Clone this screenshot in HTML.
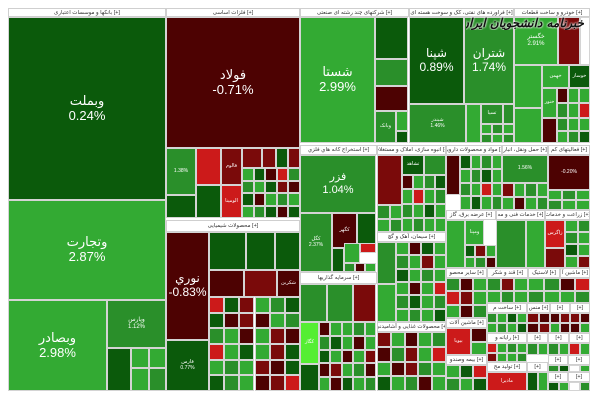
<!DOCTYPE html>
<html><head><meta charset="utf-8">
<style>
html,body{margin:0;padding:0;background:#fff;width:600px;height:400px;overflow:hidden}
#tm{position:relative;width:600px;height:400px;font-family:"Liberation Sans","DejaVu Sans",sans-serif}
.c{position:absolute;box-sizing:border-box;border:1px solid #d4d4d4;color:#fff;display:flex;flex-direction:column;align-items:center;justify-content:center;text-align:center;overflow:hidden;line-height:1.15}
.h{position:absolute;box-sizing:border-box;border:1px solid #cfcfcf;background:#fff;color:#333;font-size:5.5px;display:flex;align-items:center;justify-content:center;overflow:hidden;white-space:nowrap}
.wm{position:absolute;left:466px;top:16px;width:118px;text-align:center;font:bold italic 12px "DejaVu Sans",sans-serif;color:#111;text-shadow:0 0 2px #fff,0 0 2px #fff;white-space:nowrap;direction:rtl;overflow:hidden}
</style></head><body>
<div id="tm"></div>
<script>
var colors={D:'#0b5a0b',G:'#2a8f2a',L:'#33aa33',B:'#4cc24c',R:'#4d0202',M:'#7a0a0a',r:'#cc1a1a',W:'#ffffff',X:'#55ee33'};
var headers=[
[8,8,158,9,'بانکها و موسسات اعتباری [+]'],[166,8,134,9,'فلزات اساسی [+]'],[300,8,109,9,'شرکتهای چند رشته ای صنعتی [+]'],
[409,8,105,9,'فراورده های نفتی، کک و سوخت هسته ای [+]'],[514,8,76,9,'خودرو و ساخت قطعات [+]'],[166,220,134,12,'محصولات شیمیایی [+]'],
[300,145,77,10,'استخراج كانه هاي فلزي [+]'],[377,145,69,10,'انبوه سازی، املاک و مستغلات [+]'],[446,145,56,10,'مواد و محصولات دارویی [+]'],
[502,145,46,10,'حمل ونقل، انبار [+]'],[548,145,42,10,'فعالیتهای کم [+]'],[300,272,77,12,'سرمایه گذاریها [+]'],
[377,232,69,10,'سیمان، آهک و گچ [+]'],[377,322,69,10,'محصولات غذایی و آشامیدنی [+]'],[446,210,50,10,'عرضه برق، گاز [+]'],
[496,210,49,10,'خدمات فنی و مه [+]'],[545,210,45,10,'زراعت و خدمات [+]'],[446,268,41,10,'سایر محصو [+]'],[487,268,41,10,'قند و شکر [+]'],
[528,268,32,10,'لاستیک [+]'],[560,268,30,10,'ماشین آ [+]'],[446,318,41,10,'ماشین آلات [+]'],[446,355,41,10,'بیمه وصندو [+]'],
[487,303,40,10,'ساخت م [+]'],[527,303,23,10,'منس [+]'],[550,303,20,10,'[+]'],[570,303,20,10,'[+]'],
[487,333,40,10,'رایانه و [+]'],[527,333,21,10,'[+]'],[548,333,21,10,'[+]'],[569,333,21,10,'[+]'],
[487,362,40,10,'تولید مح [+]'],[527,362,21,10,'[+]'],[548,355,20,10,'[+]'],[568,355,22,10,'[+]'],[548,372,20,10,'[+]'],[568,372,22,10,'[+]']
];
var cells=[
[8,17,158,183,'D','وبملت','0.24%',13],[8,200,158,100,'L','وتجارت','2.87%',13],[8,300,99,91,'L','وبصادر','2.98%',13],
[107,300,59,48,'G','وپارس','1.12%',6],[107,348,24,43,'D','',''],[131,348,18,20,'L','',''],[149,348,17,20,'L','',''],[131,368,18,23,'L','',''],[149,368,17,23,'G','',''],
[166,17,134,131,'R','فولاد','-0.71%',13],[166,148,30,47,'G','','1.38%',5],[166,195,30,23,'D','',''],[196,148,25,37,'r','',''],[221,148,21,37,'M','فالوم','',5],
[242,148,20,20,'M','',''],[262,148,14,20,'M','',''],[276,148,12,20,'D','',''],[288,148,12,20,'M','',''],[196,185,25,33,'D','',''],[221,185,21,33,'r','الومينا','',5],
[166,232,43,108,'R','نوري','-0.83%',12],[166,340,43,51,'D','فارس','0.77%',5],[209,232,37,38,'D','',''],[246,232,29,38,'D','',''],[275,232,25,38,'D','',''],
[209,270,35,27,'R','',''],[244,270,33,27,'M','',''],[277,270,23,27,'R','شکربن','',5],
[300,17,75,126,'L','شستا','2.99%',13],[375,17,33,42,'D','',''],[375,59,33,27,'G','',''],[375,86,33,25,'R','',''],[375,111,21,32,'G','وبانک','',5],[396,111,12,20,'L','',''],[396,131,12,12,'D','',''],
[409,17,55,87,'D','شپنا','0.89%',12],[464,17,50,87,'G','شتران','1.74%',12],[409,104,57,39,'G','شبندر','1.46%',5],[466,104,15,39,'L','',''],[481,104,22,20,'G','تسیا','',5],[503,104,11,20,'G','',''],
[514,17,44,48,'L','خگستر','2.91%',6],[558,17,22,48,'M','','',5],[580,17,10,48,'W','',''],[514,65,28,43,'L','',''],[542,65,27,23,'L','خهمن','',5],[569,65,21,23,'D','خوساز','',5],
[514,108,28,35,'L','',''],[542,88,15,30,'L','خنور','',5],[557,88,11,15,'R','',''],[568,88,11,15,'L','',''],[579,88,11,15,'L','',''],[542,118,15,25,'R','',''],
[300,155,76,58,'G','فزر','1.04%',11],[300,213,32,59,'G','کگل','2.37%',5],[332,213,25,35,'R','کگهر','',5],[357,213,19,35,'D','',''],[332,248,12,24,'D','',''],[344,243,16,20,'L','',''],[360,243,16,10,'r','',''],
[300,284,27,38,'G','',''],[327,284,26,38,'G','',''],[353,284,23,38,'M','',''],[300,322,19,42,'X','کگاز','',5],[300,364,19,27,'D','',''],
[377,155,25,50,'M','',''],[402,155,22,20,'D','تشاهد','',5],[424,155,22,20,'G','',''],[377,242,19,42,'G','',''],[377,284,19,38,'L','',''],
[446,155,14,40,'R','',''],[502,155,46,28,'G','','1.56%',5],[548,155,42,35,'R','','-0.20%',5],
[446,220,19,48,'L','',''],[465,220,19,25,'L','ومپنا','',5],[496,220,30,48,'G','',''],[526,220,19,48,'L','',''],[545,220,20,28,'r','زاگرس','',5],[545,248,20,20,'M','',''],
[446,328,25,27,'r','بیوبا','',5],[487,372,40,19,'r','مادیرا','',5]
];
var mosaics=[
[242,168,58,50,['LDRrG','GLDMR','DRLGL','LGDRD']],
[209,297,91,94,['rDMLGD','DRMRLG','GLRLMR','rLDLMD','LGLMRD','DGLRMr']],
[481,124,33,19,['LGL','GLG']],
[557,103,33,15,['GLr']],[557,118,33,25,['GLL','LGD']],
[344,263,32,9,['GRL']],[319,322,57,69,['RLLGL','GDLRL','DLRLM','RMLGR','LRDLG']],
[402,175,44,57,['RLGD','LrLG','GLDL','LGLL']],[377,205,25,27,['GL','LG']],
[396,242,50,80,['LRDL','GLML','DLGL','LRLr','GDLG','LGLD']],
[377,332,69,59,['MLRLG','RGMLr','LRMGL','DLGRL']],
[460,155,42,55,['DLGL','LGDL','GLrL','LDLG']],[502,183,46,27,['MLGL','LRLG']],[548,190,42,20,['LGL','GLL']],
[465,245,31,23,['DML','LGR']],[565,220,25,48,['LG','GL','DL','LM']],
[446,278,41,40,['GRL','rML','LRG']],[487,278,41,25,['GML','LGL']],[528,278,32,25,['LG','GL']],[560,278,30,25,['Rr','LG']],
[471,328,16,27,['R','L']],[446,365,41,26,['LDr','GLD']],
[487,313,40,20,['GLDL','LGLD']],[527,313,23,20,['MR','RM']],[550,313,20,20,['RM','LR']],[570,313,20,20,['MR','RL']],
[487,343,40,19,['rLGL','MLLG']],[527,343,21,12,['GL']],[548,343,42,12,['GLrL']],
[527,372,21,19,['DL']],[548,365,42,7,['GDWL']],[548,382,42,9,['DLWG']]
];
var tm=document.getElementById('tm');
function add(x,y,w,h,col,name,pct,fs){
  var d=document.createElement('div');
  d.className='c';
  
  
  d.style.cssText='left:'+x+'px;top:'+y+'px;width:'+w+'px;height:'+h+'px;background:'+colors[col]+';font-size:'+(fs||5)+'px';
  if(name){var s=document.createElement('div');s.textContent=name;d.appendChild(s);}
  if(pct){var p=document.createElement('div');p.textContent=pct;d.appendChild(p);}
  tm.appendChild(d);
}
headers.forEach(function(a){
  var d=document.createElement('div');
  d.className='h';
  
  
  d.style.cssText='left:'+a[0]+'px;top:'+a[1]+'px;width:'+a[2]+'px;height:'+a[3]+'px';
  d.textContent=a[4];
  tm.appendChild(d);
});
cells.forEach(function(a){add(a[0],a[1],a[2],a[3],a[4],a[5],a[6],a[7]);});
mosaics.forEach(function(m){
  var rows=m[4],rh=m[3]/rows.length;
  rows.forEach(function(r,i){
    var cw=m[2]/r.length;
    for(var j=0;j<r.length;j++)add(m[0]+j*cw,m[1]+i*rh,cw,rh,r[j],'','');
  });
});
var wm=document.createElement('div');
wm.className='wm';


wm.textContent='خبرنامه دانشجویان ایران';
tm.appendChild(wm);
</script>
</body></html>
